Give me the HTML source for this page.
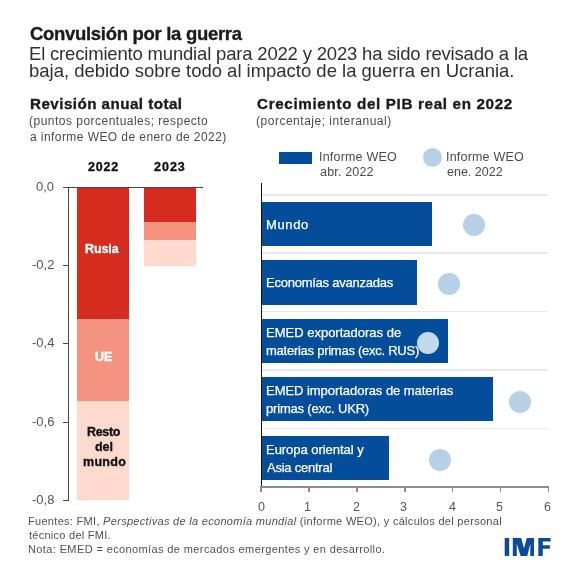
<!DOCTYPE html>
<html><head><meta charset="utf-8"><style>
html,body{margin:0;padding:0;background:#fff;}
body{width:578px;height:578px;position:relative;overflow:hidden;font-family:"Liberation Sans",sans-serif;}
.t{position:absolute;white-space:nowrap;will-change:transform;}
</style></head><body>
<div class="t" style="left:29.60px;top:23.01px;font-size:18.5px;line-height:22px;color:#1b1b1b;font-weight:bold;letter-spacing:-0.304px;-webkit-text-stroke:0.35px #1b1b1b;">Convulsión por la guerra</div>
<div class="t" style="left:29.00px;top:43.01px;font-size:18.5px;line-height:22px;color:#303030;font-weight:normal;letter-spacing:-0.183px;">El crecimiento mundial para 2022 y 2023 ha sido revisado a la</div>
<div class="t" style="left:29.00px;top:60.20px;font-size:18.5px;line-height:22px;color:#303030;font-weight:normal;letter-spacing:-0.017px;">baja, debido sobre todo al impacto de la guerra en Ucrania.</div>
<div class="t" style="left:30.00px;top:95.01px;font-size:15.2px;line-height:18px;color:#1b1b1b;font-weight:bold;letter-spacing:0.453px;-webkit-text-stroke:0.35px #1b1b1b;">Revisión anual total</div>
<div class="t" style="left:29.20px;top:114.41px;font-size:12px;line-height:14px;color:#4a4a4a;font-weight:normal;letter-spacing:0.483px;">(puntos porcentuales; respecto</div>
<div class="t" style="left:30.20px;top:129.60px;font-size:12px;line-height:14px;color:#4a4a4a;font-weight:normal;letter-spacing:0.427px;">a informe WEO de enero de 2022)</div>
<div class="t" style="left:257.00px;top:95.01px;font-size:15.2px;line-height:18px;color:#1b1b1b;font-weight:bold;letter-spacing:0.665px;-webkit-text-stroke:0.35px #1b1b1b;">Crecimiento del PIB real en 2022</div>
<div class="t" style="left:256.20px;top:113.60px;font-size:12px;line-height:14px;color:#4a4a4a;font-weight:normal;letter-spacing:0.513px;">(porcentaje; interanual)</div>
<div class="t" style="left:88.20px;top:160.01px;font-size:12.5px;line-height:15px;color:#111;font-weight:bold;letter-spacing:0.800px;-webkit-text-stroke:0.35px #111;">2022</div>
<div class="t" style="left:154.40px;top:160.01px;font-size:12.5px;line-height:15px;color:#111;font-weight:bold;letter-spacing:1.000px;-webkit-text-stroke:0.35px #111;">2023</div>
<div style="position:absolute;left:77.00px;top:188.00px;width:51.50px;height:312.30px;background:#fddacd;"></div>
<div style="position:absolute;left:77.00px;top:188.00px;width:51.50px;height:213.10px;background:#f4937f;"></div>
<div style="position:absolute;left:77.00px;top:188.00px;width:51.50px;height:130.50px;background:#d62b1f;"></div>
<div style="position:absolute;left:144.10px;top:188.00px;width:51.80px;height:77.70px;background:#fddacd;"></div>
<div style="position:absolute;left:144.10px;top:188.00px;width:51.80px;height:52.40px;background:#f4937f;"></div>
<div style="position:absolute;left:144.10px;top:188.00px;width:51.80px;height:33.70px;background:#d62b1f;"></div>
<div style="position:absolute;left:67.90px;top:187.00px;width:1.20px;height:313.90px;background:#4a4a4a;"></div>
<div style="position:absolute;left:63.30px;top:187.00px;width:139.50px;height:1.00px;background:#444;"></div>
<div style="position:absolute;left:63.30px;top:186.90px;width:5.20px;height:1.20px;background:#4a4a4a;"></div>
<div class="t" style="left:36.40px;top:178.80px;font-size:13px;line-height:16px;color:#555;font-weight:normal;letter-spacing:0.000px;">0,0</div>
<div style="position:absolute;left:63.30px;top:264.80px;width:5.20px;height:1.20px;background:#4a4a4a;"></div>
<div class="t" style="left:32.40px;top:256.72px;font-size:13px;line-height:16px;color:#555;font-weight:normal;letter-spacing:0.000px;">-0,2</div>
<div style="position:absolute;left:63.30px;top:342.80px;width:5.20px;height:1.20px;background:#4a4a4a;"></div>
<div class="t" style="left:32.40px;top:334.72px;font-size:13px;line-height:16px;color:#555;font-weight:normal;letter-spacing:0.000px;">-0,4</div>
<div style="position:absolute;left:63.30px;top:421.80px;width:5.20px;height:1.20px;background:#4a4a4a;"></div>
<div class="t" style="left:32.40px;top:413.72px;font-size:13px;line-height:16px;color:#555;font-weight:normal;letter-spacing:0.000px;">-0,6</div>
<div style="position:absolute;left:63.30px;top:499.70px;width:5.20px;height:1.20px;background:#4a4a4a;"></div>
<div class="t" style="left:32.40px;top:491.60px;font-size:13px;line-height:16px;color:#555;font-weight:normal;letter-spacing:0.000px;">-0,8</div>
<div class="t" style="left:85.00px;top:242.31px;font-size:12.5px;line-height:15px;color:#fff;font-weight:bold;letter-spacing:-0.100px;-webkit-text-stroke:0.35px #fff;">Rusia</div>
<div class="t" style="left:94.80px;top:350.01px;font-size:12.5px;line-height:15px;color:#fff;font-weight:bold;letter-spacing:0.000px;-webkit-text-stroke:0.35px #fff;">UE</div>
<div class="t" style="left:87.40px;top:425.41px;font-size:12.5px;line-height:15px;color:#111;font-weight:bold;letter-spacing:-0.350px;-webkit-text-stroke:0.35px #111;">Resto</div>
<div class="t" style="left:95.20px;top:440.41px;font-size:12.5px;line-height:15px;color:#111;font-weight:bold;letter-spacing:-0.100px;-webkit-text-stroke:0.35px #111;">del</div>
<div class="t" style="left:83.20px;top:454.81px;font-size:12.5px;line-height:15px;color:#111;font-weight:bold;letter-spacing:0.300px;-webkit-text-stroke:0.35px #111;">mundo</div>
<div style="position:absolute;left:279.30px;top:152.20px;width:32.50px;height:11.90px;background:#034d9a;"></div>
<div class="t" style="left:318.80px;top:150.01px;font-size:12.5px;line-height:15px;color:#4a4a4a;font-weight:normal;letter-spacing:0.200px;">Informe WEO</div>
<div class="t" style="left:319.80px;top:165.01px;font-size:12.5px;line-height:15px;color:#4a4a4a;font-weight:normal;letter-spacing:0.175px;">abr. 2022</div>
<div style="position:absolute;left:423.00px;top:148.00px;width:19.00px;height:19.00px;border-radius:50%;background:#b5d0e7;"></div>
<div class="t" style="left:446.40px;top:150.01px;font-size:12.5px;line-height:15px;color:#4a4a4a;font-weight:normal;letter-spacing:0.200px;">Informe WEO</div>
<div class="t" style="left:447.40px;top:165.01px;font-size:12.5px;line-height:15px;color:#4a4a4a;font-weight:normal;letter-spacing:0.000px;">ene. 2022</div>
<div style="position:absolute;left:261.20px;top:194.00px;width:287.28px;height:1.60px;background:#e8e8e8;"></div>
<div style="position:absolute;left:261.20px;top:252.30px;width:287.28px;height:1.60px;background:#e8e8e8;"></div>
<div style="position:absolute;left:261.20px;top:310.60px;width:287.28px;height:1.60px;background:#e8e8e8;"></div>
<div style="position:absolute;left:261.20px;top:369.10px;width:287.28px;height:1.60px;background:#e8e8e8;"></div>
<div style="position:absolute;left:261.20px;top:427.50px;width:287.28px;height:1.60px;background:#e8e8e8;"></div>
<div style="position:absolute;left:261.80px;top:202.00px;width:170.60px;height:44.30px;background:#034d9a;"></div>
<div class="t" style="left:266.40px;top:216.60px;font-size:13px;line-height:16px;color:#fff;font-weight:normal;letter-spacing:0.650px;-webkit-text-stroke:0.25px #fff;">Mundo</div>
<div style="position:absolute;left:462.80px;top:213.70px;width:22.00px;height:22.00px;border-radius:50%;background:#b5d0e7;"></div>
<div style="position:absolute;left:261.80px;top:260.30px;width:155.10px;height:44.30px;background:#034d9a;"></div>
<div class="t" style="left:266.40px;top:275.10px;font-size:13px;line-height:16px;color:#fff;font-weight:normal;letter-spacing:-0.244px;-webkit-text-stroke:0.25px #fff;">Economías avanzadas</div>
<div style="position:absolute;left:437.90px;top:272.75px;width:22.00px;height:22.00px;border-radius:50%;background:#b5d0e7;"></div>
<div style="position:absolute;left:261.80px;top:318.60px;width:186.60px;height:44.30px;background:#034d9a;"></div>
<div class="t" style="left:266.40px;top:325.00px;font-size:13px;line-height:16px;color:#fff;font-weight:normal;letter-spacing:0.000px;-webkit-text-stroke:0.25px #fff;">EMED exportadoras de</div>
<div class="t" style="left:266.40px;top:343.22px;font-size:13px;line-height:16px;color:#fff;font-weight:normal;letter-spacing:-0.256px;-webkit-text-stroke:0.25px #fff;">materias primas (exc. RUS)</div>
<div style="position:absolute;left:417.30px;top:331.90px;width:22.00px;height:22.00px;border-radius:50%;background:#c2d8eb;"></div>
<div style="position:absolute;left:261.80px;top:377.10px;width:231.20px;height:44.30px;background:#034d9a;"></div>
<div class="t" style="left:266.40px;top:383.00px;font-size:13px;line-height:16px;color:#fff;font-weight:normal;letter-spacing:-0.043px;-webkit-text-stroke:0.25px #fff;">EMED importadoras de materias</div>
<div class="t" style="left:266.40px;top:401.00px;font-size:13px;line-height:16px;color:#fff;font-weight:normal;letter-spacing:-0.188px;-webkit-text-stroke:0.25px #fff;">primas (exc. UKR)</div>
<div style="position:absolute;left:509.25px;top:390.60px;width:22.00px;height:22.00px;border-radius:50%;background:#b5d0e7;"></div>
<div style="position:absolute;left:261.80px;top:435.50px;width:127.30px;height:44.30px;background:#034d9a;"></div>
<div class="t" style="left:266.40px;top:441.72px;font-size:13px;line-height:16px;color:#fff;font-weight:normal;letter-spacing:-0.038px;-webkit-text-stroke:0.25px #fff;">Europa oriental y</div>
<div class="t" style="left:267.40px;top:460.00px;font-size:13px;line-height:16px;color:#fff;font-weight:normal;letter-spacing:-0.236px;-webkit-text-stroke:0.25px #fff;">Asia central</div>
<div style="position:absolute;left:428.85px;top:449.05px;width:22.00px;height:22.00px;border-radius:50%;background:#b5d0e7;"></div>
<div style="position:absolute;left:260.60px;top:182.70px;width:1.20px;height:304.30px;background:#111;"></div>
<div style="position:absolute;left:261.20px;top:485.80px;width:287.98px;height:2.00px;background:#8c8c8c;"></div>
<div style="position:absolute;left:260.45px;top:486.00px;width:1.50px;height:5.80px;background:#8c8c8c;"></div>
<div class="t" style="left:257.80px;top:500.01px;font-size:12.5px;line-height:15px;color:#555;font-weight:normal;letter-spacing:0.000px;">0</div>
<div style="position:absolute;left:308.33px;top:486.00px;width:1.50px;height:5.80px;background:#8c8c8c;"></div>
<div class="t" style="left:304.32px;top:500.01px;font-size:12.5px;line-height:15px;color:#555;font-weight:normal;letter-spacing:0.000px;">1</div>
<div style="position:absolute;left:356.21px;top:486.00px;width:1.50px;height:5.80px;background:#8c8c8c;"></div>
<div class="t" style="left:352.84px;top:500.01px;font-size:12.5px;line-height:15px;color:#555;font-weight:normal;letter-spacing:0.000px;">2</div>
<div style="position:absolute;left:404.09px;top:486.00px;width:1.50px;height:5.80px;background:#8c8c8c;"></div>
<div class="t" style="left:400.36px;top:500.01px;font-size:12.5px;line-height:15px;color:#555;font-weight:normal;letter-spacing:0.000px;">3</div>
<div style="position:absolute;left:451.97px;top:486.00px;width:1.50px;height:5.80px;background:#8c8c8c;"></div>
<div class="t" style="left:448.88px;top:500.01px;font-size:12.5px;line-height:15px;color:#555;font-weight:normal;letter-spacing:0.000px;">4</div>
<div style="position:absolute;left:499.85px;top:486.00px;width:1.50px;height:5.80px;background:#8c8c8c;"></div>
<div class="t" style="left:496.40px;top:500.01px;font-size:12.5px;line-height:15px;color:#555;font-weight:normal;letter-spacing:0.000px;">5</div>
<div style="position:absolute;left:547.73px;top:486.00px;width:1.50px;height:5.80px;background:#8c8c8c;"></div>
<div class="t" style="left:543.92px;top:500.01px;font-size:12.5px;line-height:15px;color:#555;font-weight:normal;letter-spacing:0.000px;">6</div>
<div class="t" style="left:28.20px;top:515.31px;font-size:11px;line-height:13px;color:#505050;font-weight:normal;letter-spacing:0.300px;">Fuentes: FMI, <i>Perspectivas de la economía mundial</i> (informe WEO), y cálculos del personal</div>
<div class="t" style="left:29.20px;top:529.00px;font-size:11px;line-height:13px;color:#505050;font-weight:normal;letter-spacing:0.267px;">técnico del FMI.</div>
<div class="t" style="left:28.20px;top:543.00px;font-size:11px;line-height:13px;color:#505050;font-weight:normal;letter-spacing:0.384px;">Nota: EMED = economías de mercados emergentes y en desarrollo.</div>
<svg style="position:absolute;left:0;top:0" width="578" height="578" viewBox="0 0 578 578"><g fill="#0f4a99"><rect x="504.7" y="538" width="4.5" height="17.9"/><polygon points="512.8,555.9 512.8,538 521.2,538 524.0,548.3 526.8,538 534.0,538 534.0,555.9 530.3,555.9 530.3,543.8 527.3,555.9 520.6,555.9 516.8,543.8 516.8,555.9"/><polygon points="538.3,555.9 538.3,538 550.6,538 550.6,541.6 542.8,541.6 542.8,545.2 549.9,545.2 549.9,548.8 542.8,548.8 542.8,555.9"/></g></svg>
</body></html>
